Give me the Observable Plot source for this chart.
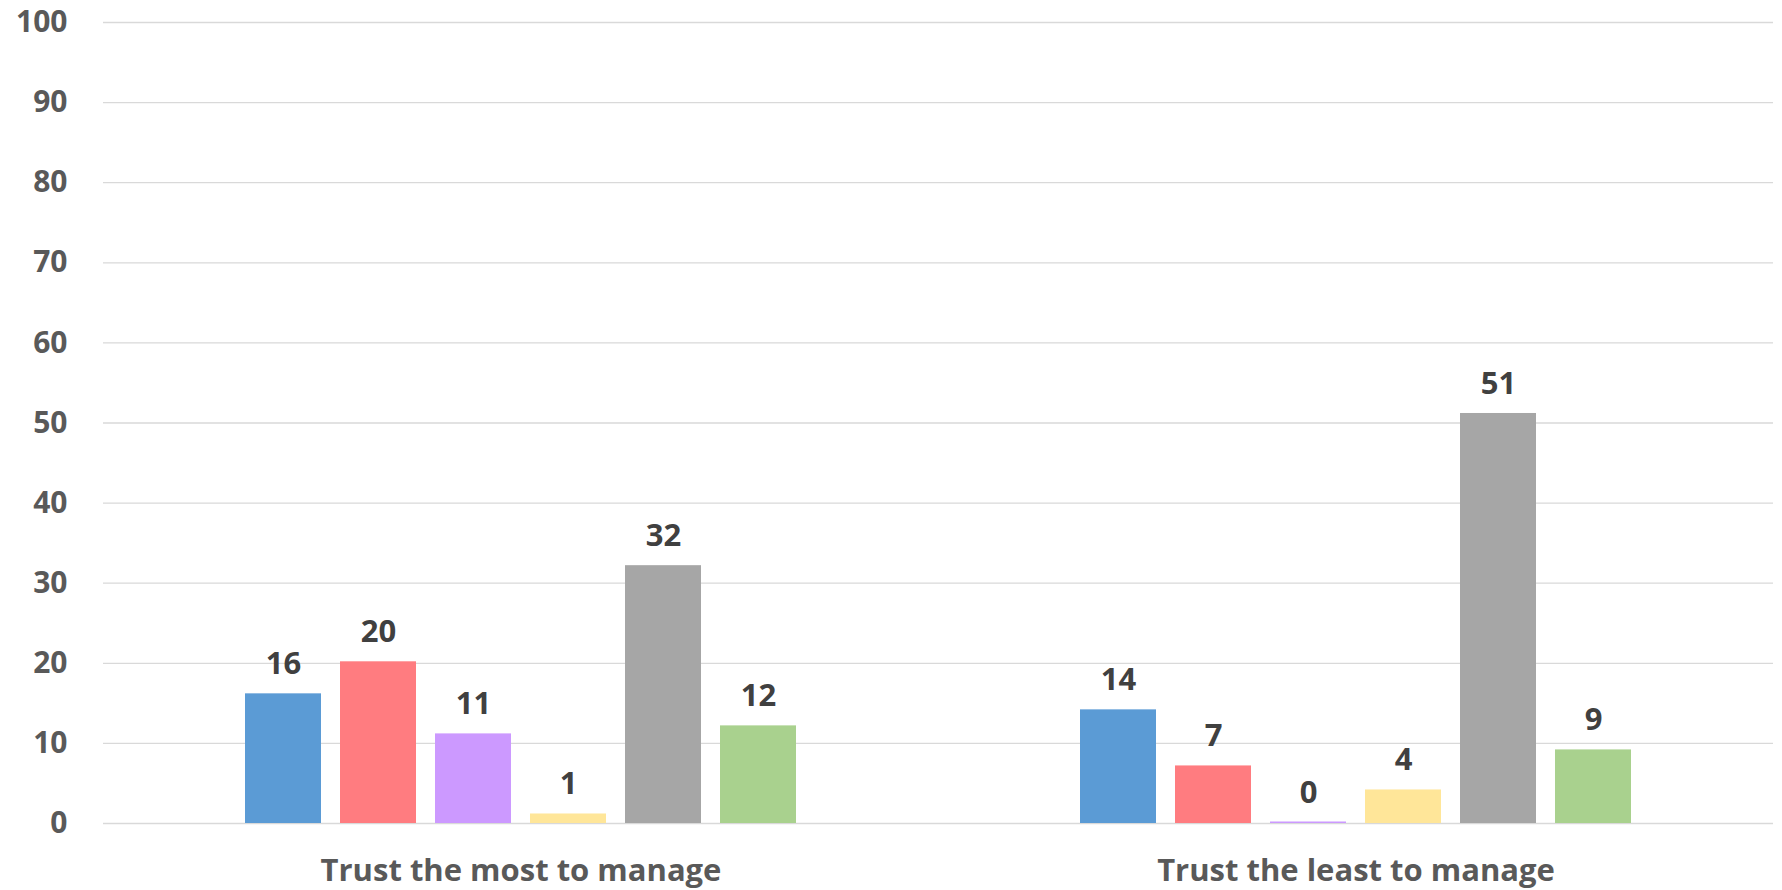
<!DOCTYPE html>
<html>
<head>
<meta charset="utf-8">
<script src="https://cdn.jsdelivr.net/npm/d3@7"></script>
<script src="https://cdn.jsdelivr.net/npm/@observablehq/plot@0.6"></script>
<style>
  html, body { margin: 0; padding: 0; background: #fff; overflow: hidden; }
  #chart svg { display: block; }
</style>
</head>
<body>
<div id="chart"></div>
<script>
const categories = ["Trust the most to manage", "Trust the least to manage"];
const series = ["Series 1", "Series 2", "Series 3", "Series 4", "Series 5", "Series 6"];
const colors = ["#5B9BD5", "#FF7C80", "#CC99FF", "#FFE699", "#A6A6A6", "#A9D18E"];
const mostValues = [16, 20, 11, 1, 32, 12];
const leastValues = [14, 7, 0, 4, 51, 9];
const yTicks = [0, 10, 20, 30, 40, 50, 60, 70, 80, 90, 100];

const data = [];
series.forEach((s, i) => {
  data.push({cat: categories[0], series: s, value: mostValues[i]});
  data.push({cat: categories[1], series: s, value: leastValues[i]});
});

const chart = Plot.plot({
  width: 1782,
  height: 890,
  marginTop: 22,
  marginBottom: 67,
  marginLeft: 102,
  marginRight: 9,
  style: {fontFamily: "'Open Sans', sans-serif", background: "#fff"},
  fx: {domain: categories, padding: 0, label: null},
  x: {domain: series, paddingInner: 0.2, paddingOuter: 1.45, axis: null},
  y: {domain: [0, 100], label: null},
  color: {domain: series, range: colors},
  marks: [
    Plot.gridY(yTicks, {stroke: "#d9d9d9", strokeOpacity: 1, strokeWidth: 1.3}),
    Plot.barY(data, {fx: "cat", x: "series", y: "value", fill: "series", insetTop: -1.5}),
    Plot.text(data, {
      fx: "cat", x: "series", y: "value", text: d => String(d.value),
      lineAnchor: "bottom", dy: -21, fontSize: 31, fontWeight: 700, fill: "#404040"
    }),
    Plot.axisY(yTicks, {tickSize: 0, tickPadding: 36, fontSize: 30, fontWeight: 700, fill: "#595959", label: null}),
    Plot.axisFx({anchor: "bottom", tickSize: 0, tickPadding: 35, fontSize: 31, fontWeight: 700, fill: "#595959", label: null})
  ]
});
document.getElementById("chart").appendChild(chart);
</script>
</body>
</html>
